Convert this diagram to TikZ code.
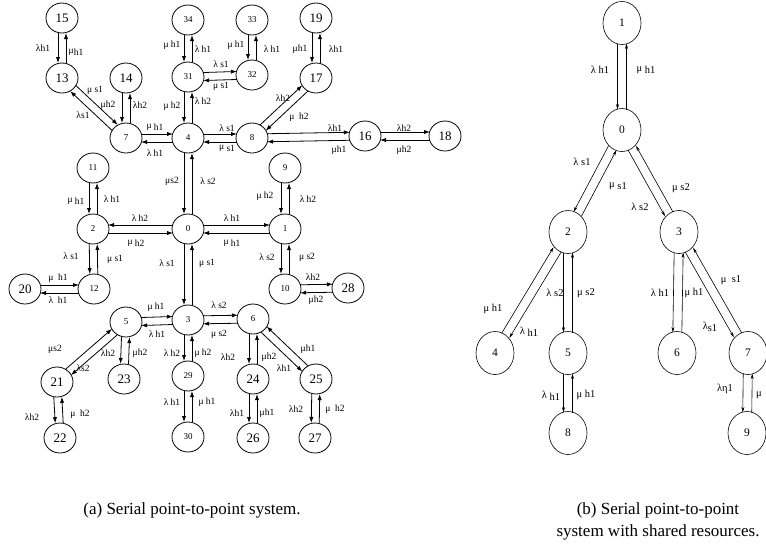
\documentclass[tikz,border=0pt]{standalone}
\usepackage{fontspec}
\setmainfont{Liberation Serif}
\usetikzlibrary{calc,arrows.meta,shapes.geometric}
\newcommand\pairoff{4pt}
\newcommand\pairR[3][arr]{%
  \draw[#1] ($(#2)!\pairoff!-90:(#3)$) -- ($(#3)!\pairoff!90:(#2)$);
  \draw[#1] ($(#3)!\pairoff!-90:(#2)$) -- ($(#2)!\pairoff!90:(#3)$);}
\newcommand\pairL[3][arr]{%
  \draw[#1] ($(#2)!\pairoff!90:(#3)$) -- ($(#3)!\pairoff!-90:(#2)$);
  \draw[#1] ($(#3)!\pairoff!90:(#2)$) -- ($(#2)!\pairoff!-90:(#3)$);}
\newcommand\lo[1]{\raisebox{-0.45ex}{#1}}
\begin{document}
\begin{tikzpicture}[x=1pt,y=-1pt,
 st/.style={ellipse, draw, line width=0.8pt, minimum width=32pt, minimum height=30pt, inner sep=0pt},
 big/.style={st, font=\fontsize{13}{13}\selectfont},
 sm/.style={st, font=\fontsize{9}{10}\selectfont},
 bn/.style={ellipse, draw, line width=0.6pt, minimum width=38pt, minimum height=43pt, inner sep=0pt, font=\fontsize{11.5}{12}\selectfont},
 arr/.style={line width=0.8pt, -{Latex[length=6pt,width=4.2pt]}, shorten <=15pt, shorten >=15pt},
 barr/.style={line width=0.6pt, -{Stealth[length=5.5pt,width=3pt]}, shorten <=20.5pt, shorten >=20.5pt},
 lab/.style={font=\fontsize{9.5}{10}\selectfont, inner sep=0pt},
 blab/.style={font=\fontsize{10.5}{11}\selectfont, inner sep=0pt},
 captxt/.style={font=\fontsize{17}{22}\selectfont, inner sep=0pt, align=center}]
\useasboundingbox (0,0) rectangle (766,550);
% ---------- (a) nodes
\node[big] (a15) at (62,18) {15};
\node[big] (a13) at (62,78) {13};
\node[big] (a14) at (126,78) {14};
\node[sm] (a7) at (126,138) {7};
\node[sm] (a4) at (188,138) {4};
\node[sm] (a34) at (188,20) {34};
\node[sm] (a31) at (188,77) {31};
\node[sm] (a33) at (252,20) {33};
\node[sm] (a32) at (252,75) {32};
\node[sm] (a8) at (252,138) {8};
\node[big] (a19) at (316,18) {19};
\node[big] (a17) at (316,78) {17};
\node[big] (a16) at (365,136) {16};
\node[big] (a18) at (445,136) {18};
\node[sm] (a11) at (93,168) {11};
\node[sm] (a2) at (93,229) {2};
\node[sm] (a0) at (188,229) {0};
\node[sm] (a1) at (285,229) {1};
\node[sm] (a9) at (285,168) {9};
\node[sm] (a12) at (94,289) {12};
\node[big] (a20) at (25,289) {20};
\node[sm] (a10) at (285,289) {10};
\node[big] (a28) at (348,288) {28};
\node[sm] (a5) at (126,322) {5};
\node[sm] (a3) at (188,320) {3};
\node[sm] (a6) at (253,319) {6};
\node[big] (a21) at (57,382) {21};
\node[big] (a23) at (124,379) {23};
\node[sm] (a29) at (188,376) {29};
\node[big] (a24) at (253,379) {24};
\node[big] (a25) at (316,379) {25};
\node[big] (a22) at (60,438) {22};
\node[sm] (a30) at (188,437) {30};
\node[big] (a26) at (253,438) {26};
\node[big] (a27) at (315,438) {27};
% ---------- (a) connectors
\pairR{a15}{a13}
\pairL{a13}{a7}
\pairR{a14}{a7}
\pairL{a7}{a4}
\pairR{a34}{a31}
\pairL{a31}{a32}
\pairR{a33}{a32}
\pairR{a31}{a4}
\pairL{a4}{a8}
\pairR{a19}{a17}
\pairL{a8}{a17}
\pairL{a8}{a16}
\pairL{a16}{a18}
\pairR{a4}{a0}
\pairR{a11}{a2}
\pairR{a0}{a2}
\pairL{a0}{a1}
\pairR{a9}{a1}
\pairR{a2}{a12}
\pairL{a20}{a12}
\pairR{a0}{a3}
\pairR{a1}{a10}
\pairL{a10}{a28}
\pairL{a5}{a3}
\pairL{a3}{a6}
\pairL{a21}{a5}
\pairR{a5}{a23}
\pairR{a21}{a22}
\pairR{a3}{a29}
\pairR{a29}{a30}
\pairR{a6}{a24}
\pairR{a25}{a6}
\pairR{a24}{a26}
\pairR{a25}{a27}
% ---------- (a) labels
\node[lab] (l1) at (43,48) {λh1};
\node[lab] (l2) at (76,52) {μ\lo{h1}};
\node[lab] (l3) at (95,90) {μ s1};
\node[lab] (l4) at (83,115) {λs1};
\node[lab] (l5) at (108,105) {μh2};
\node[lab] (l6) at (140,105) {λh2};
\node[lab] (l7) at (172,45) {μ h1};
\node[lab] (l8) at (203,49) {λ h1};
\node[lab] (l9) at (221,64) {λ s1};
\node[lab] (l10) at (221,86) {μ s1};
\node[lab] (l11) at (236,45) {μ h1};
\node[lab] (l12) at (272,49) {λ h1};
\node[lab] (l13) at (172,106) {μ h2};
\node[lab] (l14) at (203,101) {λ h2};
\node[lab] (l15) at (155,127) {μ \lo{h1}};
\node[lab] (l16) at (155,153) {λ h1};
\node[lab] (l17) at (227,128) {λ s1};
\node[lab] (l18) at (227,148) {μ \lo{s1}};
\node[lab] (l19) at (300,49) {μh1};
\node[lab] (l20) at (336,49) {λh1};
\node[lab] (l21) at (283,98) {λh2};
\node[lab] (l22) at (299,117) {μ\ \ h2};
\node[lab] (l23) at (335,128) {λh1};
\node[lab] (l24) at (339,150) {μh1};
\node[lab] (l25) at (404,128) {λh2};
\node[lab] (l26) at (404,150) {μh2};
\node[lab] (l27) at (172,181) {μs2};
\node[lab] (l28) at (208,181) {λ s2};
\node[lab] (l29) at (76,201) {μ \lo{h1}};
\node[lab] (l30) at (112,199) {λ h1};
\node[lab] (l31) at (140,218) {λ h2};
\node[lab] (l32) at (136,243) {μ \lo{h2}};
\node[lab] (l33) at (232,218) {λ h1};
\node[lab] (l34) at (232,243) {μ \lo{h1}};
\node[lab] (l35) at (71,256) {λ s1};
\node[lab] (l36) at (115,259) {μ s1};
\node[lab] (l37) at (167,263) {λ s1};
\node[lab] (l38) at (207,263) {μ s1};
\node[lab] (l39) at (58,278) {μ\ \ h1};
\node[lab] (l40) at (58,300) {λ\ \ h1};
\node[lab] (l41) at (265,196) {μ h2};
\node[lab] (l42) at (308,199) {λ h2};
\node[lab] (l43) at (267,257) {λ s2};
\node[lab] (l44) at (307,257) {μ s2};
\node[lab] (l45) at (313,277) {λh2};
\node[lab] (l46) at (316,300) {μh2};
\node[lab] (l47) at (156,307) {μ h1};
\node[lab] (l48) at (157,334) {λ h1};
\node[lab] (l49) at (219,305) {λ s2};
\node[lab] (l50) at (219,334) {μ s2};
\node[lab] (l51) at (55,349) {μs2};
\node[lab] (l52) at (83,368) {λs2};
\node[lab] (l53) at (108,353) {λh2};
\node[lab] (l54) at (140,353) {μh2};
\node[lab] (l55) at (172,353) {λ h2};
\node[lab] (l56) at (203,353) {μ h2};
\node[lab] (l57) at (32,417) {λh2};
\node[lab] (l58) at (80,414) {μ\ \ h2};
\node[lab] (l59) at (172,402) {λ h1};
\node[lab] (l60) at (207,402) {μ h1};
\node[lab] (l61) at (228,357) {λh2};
\node[lab] (l62) at (269,357) {μh2};
\node[lab] (l63) at (308,349) {μh1};
\node[lab] (l64) at (284,368) {λh1};
\node[lab] (l65) at (237,413) {λh1};
\node[lab] (l66) at (267,413) {μh1};
\node[lab] (l67) at (296,409) {λh2};
\node[lab] (l68) at (335,409) {μ\ \ h2};
% ---------- (b) nodes
\node[bn] (b1) at (622,23) {1};
\node[bn] (b0) at (622,130) {0};
\node[bn] (b2) at (568,232) {2};
\node[bn] (b3) at (679,232) {3};
\node[bn] (b4) at (495,353) {4};
\node[bn] (b5) at (568,353) {5};
\node[bn] (b6) at (677,353) {6};
\node[bn] (b7) at (748,353) {7};
\node[bn] (b8) at (568,433) {8};
\node[bn] (b9) at (747,433) {9};
% ---------- (b) connectors
\renewcommand\pairoff{4.5pt}
\pairR[barr]{b1}{b0}
\pairR[barr]{b0}{b2}
\pairR[barr]{b0}{b3}
\pairL[barr]{b4}{b2}
\pairR[barr]{b2}{b5}
\pairR[barr]{b5}{b8}
\pairR[barr]{b3}{b6}
\pairR[barr]{b3}{b7}
\pairR[barr]{b7}{b9}
% ---------- (b) labels
\node[blab] (m1) at (600,70) {λ h1};
\node[blab] (m2) at (646,70) {μ \lo{h1}};
\node[blab] (m3) at (582,162) {λ s1};
\node[blab] (m4) at (618,186) {μ \lo{s1}};
\node[blab] (m5) at (681,188) {μ s2};
\node[blab] (m6) at (640,207) {λ s2};
\node[blab] (m7) at (555,293) {λ s2};
\node[blab] (m8) at (586,293) {μ s2};
\node[blab] (m9) at (660,293) {λ h1};
\node[blab] (m10) at (694,293) {μ h1};
\node[blab] (m11) at (731,280) {μ\ \ s1};
\node[blab] (m12) at (710,327) {λ\lo{s1}};
\node[blab] (m13) at (551,396) {λ \lo{h1}};
\node[blab] (m14) at (586,395) {μ h1};
\node[blab] (m15) at (725,389) {λη1};
\node[blab,anchor=west] (m16) at (756,395) {μ};
\node[blab] (m17) at (493,309) {μ h1};
\node[blab] (m18) at (529,332) {λ \lo{h1}};
% ---------- captions
\node[captxt] (capa) at (192,510) {(a) Serial point-to-point system.};
\node[captxt] (capb) at (658,521) {(b) Serial point-to-point\\system with shared resources.};
\end{tikzpicture}
\end{document}
